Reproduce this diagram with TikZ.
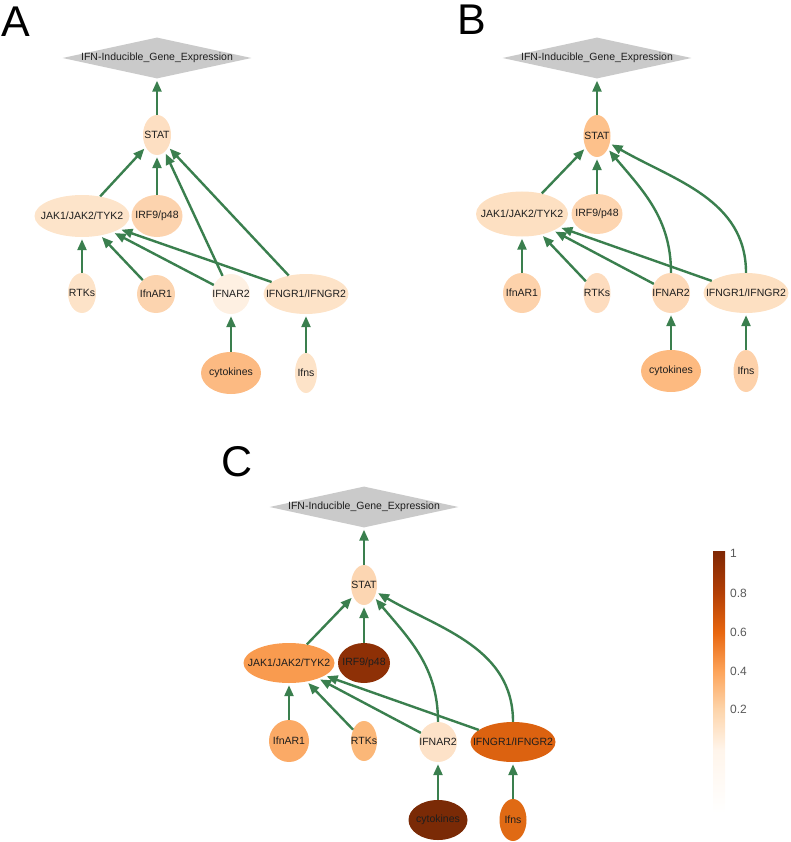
\documentclass[tikz,border=0pt]{standalone}
\usepackage{fontspec}
\setmainfont{Liberation Sans}
\usetikzlibrary{shapes.geometric,arrows.meta}
\definecolor{egreen}{HTML}{3A7F4E}
\definecolor{dgray}{HTML}{CACACA}
\definecolor{txt}{HTML}{1E1E1E}
\definecolor{or0}{HTML}{FFF5EB}
\definecolor{or2}{HTML}{FDD3A8}
\definecolor{or4}{HTML}{FDA45A}
\definecolor{or6}{HTML}{E8660F}
\definecolor{or8}{HTML}{B33F05}
\definecolor{or10}{HTML}{7F2704}
% panel A colours
\definecolor{aSTATc}{HTML}{FDDFC2}
\definecolor{aJAKc}{HTML}{FDE4CA}
\definecolor{aIRFc}{HTML}{FCD3AE}
\definecolor{aRTKc}{HTML}{FDE3C8}
\definecolor{aAR1c}{HTML}{FCD4AF}
\definecolor{aAR2c}{HTML}{FEF0E2}
\definecolor{aGRc}{HTML}{FDE3C8}
\definecolor{aCYTc}{HTML}{FCBA82}
\definecolor{aIFNc}{HTML}{FDE3C8}
% panel B colours
\definecolor{bSTATc}{HTML}{FDC18B}
\definecolor{bJAKc}{HTML}{FDE0C2}
\definecolor{bIRFc}{HTML}{FDD5B0}
\definecolor{bRTKc}{HTML}{FDDCBE}
\definecolor{bAR1c}{HTML}{FDD2AB}
\definecolor{bAR2c}{HTML}{FDD9B8}
\definecolor{bGRc}{HTML}{FDE0C2}
\definecolor{bCYTc}{HTML}{FDBA80}
\definecolor{bIFNc}{HTML}{FDD1AA}
% panel C colours
\definecolor{cSTATc}{HTML}{FCD6B2}
\definecolor{cJAKc}{HTML}{F99B4F}
\definecolor{cIRFc}{HTML}{8E3006}
\definecolor{cRTKc}{HTML}{FBB778}
\definecolor{cAR1c}{HTML}{FBAA66}
\definecolor{cAR2c}{HTML}{FDE2C8}
\definecolor{cGRc}{HTML}{DC6210}
\definecolor{cCYTc}{HTML}{7A2A06}
\definecolor{cIFNc}{HTML}{E06A14}
\pgfdeclareverticalshading{cbar}{100bp}{color(0bp)=(white); color(25bp)=(white); color(37bp)=(or0); color(45bp)=(or2); color(52bp)=(or4); color(59.5bp)=(or6); color(67bp)=(or8); color(75bp)=(or10); color(100bp)=(or10)}
\newcommand\ellnode[7]{\node[enode,minimum width=#4pt,minimum height=#5pt,fill=#6] (#1) at (#2,#3) {\makebox[0pt]{#7}};}
\newcommand\dianode[3]{\node[dnode] (#1) at (#2,#3) {\makebox[0pt]{IFN-Inducible\_Gene\_Expression}};}
\tikzset{
  enode/.style={ellipse,inner sep=0pt,text=txt,font=\fontsize{10.5pt}{12pt}\selectfont},
  dnode/.style={diamond,fill=dgray,inner sep=0pt,minimum width=189pt,minimum height=41pt,text=txt,font=\fontsize{10.5pt}{12pt}\selectfont},
  lnk/.style={draw=egreen,line width=2.4pt,-{Triangle[length=11pt,width=9pt]},shorten >=2pt},
  panel/.style={font=\fontsize{43pt}{50pt}\selectfont,inner sep=0pt,anchor=base west},
  tick/.style={font=\fontsize{12pt}{14pt}\selectfont,text=black!65,inner sep=0pt,anchor=west}
}
\begin{document}
\begin{tikzpicture}[x=1pt,y=-1pt]
\useasboundingbox (0,0) rectangle (790,842);
% ---------- Panel A ----------
\node[panel] (labA) at (1,37) {A};
\dianode{aD}{157}{58}
\ellnode{aSTAT}{157}{135}{28}{40}{aSTATc}{STAT}
\ellnode{aJAK}{82}{216}{95}{42}{aJAKc}{JAK1/JAK2/TYK2}
\ellnode{aIRF}{157}{216}{51}{42}{aIRFc}{IRF9/p48}
\ellnode{aRTK}{82}{293}{28}{40}{aRTKc}{RTKs}
\ellnode{aAR1}{156}{294}{38}{38}{aAR1c}{IfnAR1}
\ellnode{aAR2}{231}{294}{38}{40}{aAR2c}{IFNAR2}
\ellnode{aGR}{306}{294}{85}{40}{aGRc}{IFNGR1/IFNGR2}
\ellnode{aCYT}{231}{373}{60}{42}{aCYTc}{cytokines}
\ellnode{aIFN}{306}{373}{22}{40}{aIFNc}{Ifns}
\draw[lnk] (aSTAT) -- (aD);
\draw[lnk] (aJAK) -- (aSTAT);
\draw[lnk] (aIRF) -- (aSTAT);
\draw[lnk] (aAR2) -- (aSTAT);
\draw[lnk] (aGR) -- (aSTAT);
\draw[lnk] (aRTK) -- (aJAK);
\draw[lnk] (aAR1) -- (aJAK);
\draw[lnk] (aAR2) -- (aJAK);
\draw[lnk] (aGR) -- (aJAK);
\draw[lnk] (aCYT) -- (aAR2);
\draw[lnk] (aIFN) -- (aGR);
% ---------- Panel B ----------
\node[panel] (labB) at (457,35) {B};
\dianode{bD}{597}{58}
\ellnode{bSTAT}{597}{136}{27}{42}{bSTATc}{STAT}
\ellnode{bJAK}{522}{214}{92}{45}{bJAKc}{JAK1/JAK2/TYK2}
\ellnode{bIRF}{597}{214}{51}{40}{bIRFc}{IRF9/p48}
\ellnode{bAR1}{522}{293}{38}{40}{bAR1c}{IfnAR1}
\ellnode{bRTK}{597}{293}{27}{40}{bRTKc}{RTKs}
\ellnode{bAR2}{671}{293}{38}{40}{bAR2c}{IFNAR2}
\ellnode{bGR}{746}{293}{85}{40}{bGRc}{IFNGR1/IFNGR2}
\ellnode{bCYT}{671}{371}{60}{42}{bCYTc}{cytokines}
\ellnode{bIFN}{746}{371}{25}{42}{bIFNc}{Ifns}
\draw[lnk] (bSTAT) -- (bD);
\draw[lnk] (bJAK) -- (bSTAT);
\draw[lnk] (bIRF) -- (bSTAT);
\draw[lnk] (bAR2) to[out=90,in=-50] (bSTAT);
\draw[lnk] (bGR) to[out=90,in=-30] (bSTAT);
\draw[lnk] (bAR1) -- (bJAK);
\draw[lnk] (bRTK) -- (bJAK);
\draw[lnk] (bAR2) -- (bJAK);
\draw[lnk] (bGR) -- (bJAK);
\draw[lnk] (bCYT) -- (bAR2);
\draw[lnk] (bIFN) -- (bGR);
% ---------- Panel C ----------
\node[panel] (labC) at (221,476) {C};
\dianode{cD}{364}{507}
\ellnode{cSTAT}{364}{585}{26}{40}{cSTATc}{STAT}
\ellnode{cJAK}{289}{663}{91}{40}{cJAKc}{JAK1/JAK2/TYK2}
\ellnode{cIRF}{364}{663}{52}{40}{cIRFc}{IRF9/p48}
\ellnode{cAR1}{289}{741}{40}{42}{cAR1c}{IfnAR1}
\ellnode{cRTK}{364}{741}{26}{40}{cRTKc}{RTKs}
\ellnode{cAR2}{438}{742}{38}{40}{cAR2c}{IFNAR2}
\ellnode{cGR}{513}{742}{85}{40}{cGRc}{IFNGR1/IFNGR2}
\ellnode{cCYT}{438}{820}{59}{40}{cCYTc}{cytokines}
\ellnode{cIFN}{513}{820}{27}{42}{cIFNc}{Ifns}
\draw[lnk] (cSTAT) -- (cD);
\draw[lnk] (cJAK) -- (cSTAT);
\draw[lnk] (cIRF) -- (cSTAT);
\draw[lnk] (cAR2) to[out=90,in=-50] (cSTAT);
\draw[lnk] (cGR) to[out=90,in=-30] (cSTAT);
\draw[lnk] (cAR1) -- (cJAK);
\draw[lnk] (cRTK) -- (cJAK);
\draw[lnk] (cAR2) -- (cJAK);
\draw[lnk] (cGR) -- (cJAK);
\draw[lnk] (cCYT) -- (cAR2);
\draw[lnk] (cIFN) -- (cGR);
% ---------- Colour bar ----------
\shade[shading=cbar] (713,551) rectangle (725,813);
\node[tick] (t10) at (730,553) {1};
\node[tick] (t08) at (730,593) {0.8};
\node[tick] (t06) at (730,632) {0.6};
\node[tick] (t04) at (730,671) {0.4};
\node[tick] (t02) at (730,709) {0.2};
\end{tikzpicture}
\end{document}
